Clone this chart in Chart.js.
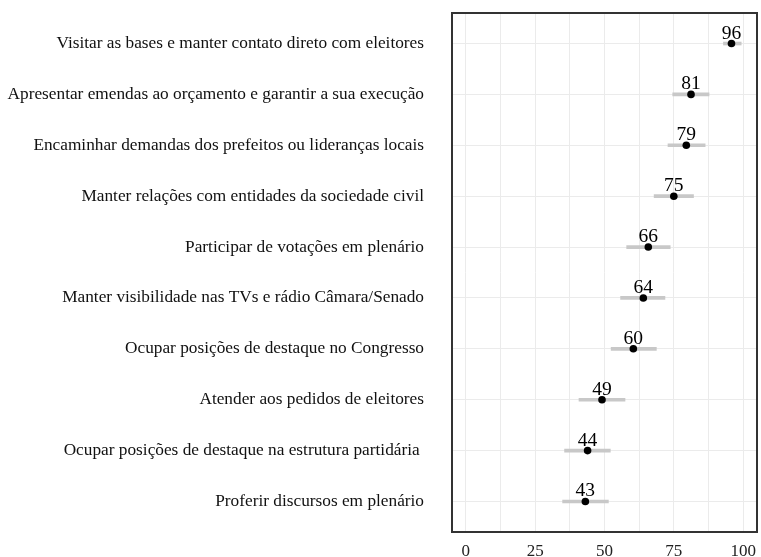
<!DOCTYPE html>
<html>
<head>
<meta charset="utf-8">
<script src="https://cdn.jsdelivr.net/npm/chart.js@4/dist/chart.umd.min.js"></script>
<style>
  html, body { margin: 0; padding: 0; background: #ffffff; }
  #wrap { width: 761px; height: 557px; position: relative; }
</style>
</head>
<body>
<div id="wrap"><canvas id="c" width="761" height="557"></canvas></div>
<script>
const categories = [
  "Visitar as bases e manter contato direto com eleitores",
  "Apresentar emendas ao orçamento e garantir a sua execução",
  "Encaminhar demandas dos prefeitos ou lideranças locais",
  "Manter relações com entidades da sociedade civil",
  "Participar de votações em plenário",
  "Manter visibilidade nas TVs e rádio Câmara/Senado",
  "Ocupar posições de destaque no Congresso",
  "Atender aos pedidos de eleitores",
  "Ocupar posições de destaque na estrutura partidária ",
  "Proferir discursos em plenário"
];
const values = [96, 81, 79, 75, 66, 64, 60, 49, 44, 43];
const pointX = [95.8, 81.2, 79.5, 75.0, 65.8, 64.0, 60.4, 49.1, 43.9, 43.1];
const lower = [92.9, 74.6, 72.9, 67.9, 58.0, 55.8, 52.4, 40.8, 35.6, 34.9];
const upper = [99.3, 87.7, 86.3, 82.1, 73.7, 71.8, 68.7, 57.4, 52.1, 51.4];
const xTicks = [0, 12.5, 25, 37.5, 50, 62.5, 75, 87.5, 100];

const serif = "'Liberation Serif', 'DejaVu Serif', serif";

const panelBorder = {
  id: 'panelBorder',
  afterDraw(chart) {
    const a = chart.chartArea, ctx = chart.ctx;
    ctx.save();
    ctx.strokeStyle = '#333333';
    ctx.lineWidth = 2;
    ctx.strokeRect(a.left, a.top, a.right - a.left, a.bottom - a.top);
    ctx.restore();
  }
};

const valueLabels = {
  id: 'valueLabels',
  afterDatasetsDraw(chart) {
    const ctx = chart.ctx;
    const meta = chart.getDatasetMeta(1);
    ctx.save();
    ctx.font = "19.5px " + serif;
    ctx.fillStyle = '#000000';
    ctx.textAlign = 'center';
    ctx.textBaseline = 'alphabetic';
    meta.data.forEach((pt, i) => {
      ctx.fillText(String(values[i]), pt.x, pt.y - 5);
    });
    ctx.restore();
  }
};

new Chart(document.getElementById('c'), {
  data: {
    datasets: [
      {
        type: 'bar',
        indexAxis: 'y',
        data: categories.map((c, i) => ({ y: i, x: [lower[i], upper[i]] })),
        backgroundColor: 'rgb(200,200,200)',
        borderWidth: 0,
        barThickness: 3,
        order: 2
      },
      {
        type: 'scatter',
        data: categories.map((c, i) => ({ x: pointX[i], y: i })),
        backgroundColor: '#000000',
        borderColor: '#000000',
        pointRadius: 3.8,
        pointBorderWidth: 0,
        order: 1
      }
    ]
  },
  options: {
    responsive: false,
    animation: false,
    devicePixelRatio: 1,
    layout: { padding: { top: 13, right: 1, left: 0, bottom: 0 } },
    plugins: { legend: { display: false }, tooltip: { enabled: false } },
    scales: {
      x: {
        type: 'linear',
        min: -5, max: 105,
        offset: false,
        afterBuildTicks(scale) { scale.ticks = xTicks.map(v => ({ value: v })); },
        afterFit(scale) { scale.height = 25; scale.paddingLeft = 0; scale.paddingRight = 0; },
        grid: { color: '#ebebeb', lineWidth: 1, drawTicks: false, offset: false },
        border: { display: false },
        ticks: {
          autoSkip: false,
          maxRotation: 0,
          padding: 9,
          color: '#222222',
          font: { family: serif, size: 17 },
          callback(v) { return (v % 25 === 0) ? String(v) : ''; }
        }
      },
      y: {
        type: 'linear',
        reverse: true,
        min: -0.6, max: 9.6,
        offset: false,
        afterBuildTicks(scale) { scale.ticks = categories.map((c, i) => ({ value: i })); },
        afterFit(scale) { scale.width = 452; scale.paddingTop = 0; scale.paddingBottom = 0; },
        grid: { color: '#ebebeb', lineWidth: 1, drawTicks: false, offset: false },
        border: { display: false },
        ticks: {
          autoSkip: false,
          padding: 28,
          color: '#111111',
          font: { family: serif, size: 17.3 },
          callback(v) { return categories[v] !== undefined ? categories[v] : ''; }
        }
      }
    }
  },
  plugins: [panelBorder, valueLabels]
});
</script>
</body>
</html>
